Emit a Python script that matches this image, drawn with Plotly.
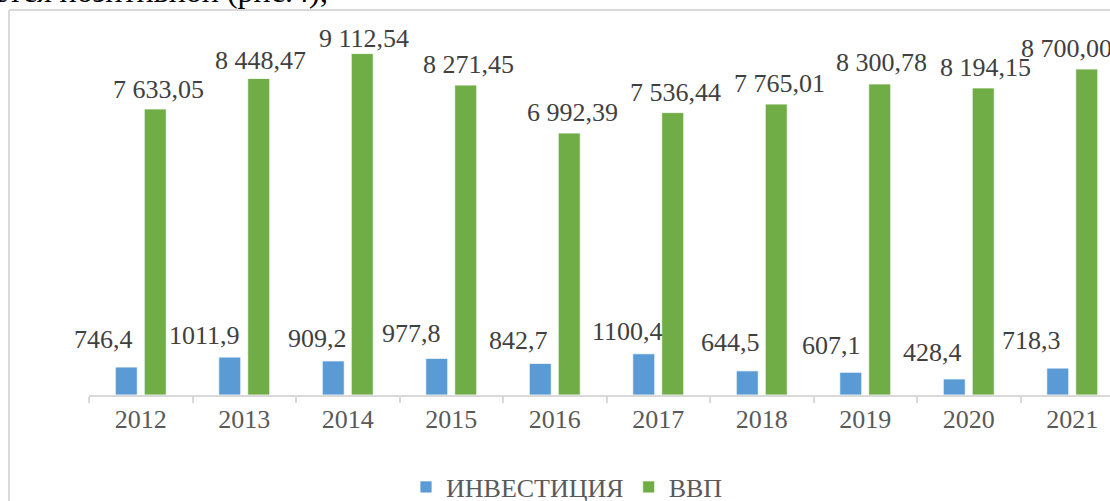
import plotly.graph_objects as go

# data
years = ['2012', '2013', '2014', '2015', '2016', '2017', '2018', '2019', '2020', '2021']
investment = [746.4, 1011.9, 909.2, 977.8, 842.7, 1100.4, 644.5, 607.1, 428.4, 718.3]
gdp = [7633.05, 8448.47, 9112.54, 8271.45, 6992.39, 7536.44, 7765.01, 8300.78, 8194.15, 8700.00]

# small nudges of the data labels (pixels), as placed in the original
inv_dx = [-23, -25, -16, -25, -22, -16, -17, -19, -22, -26]
inv_dy = [28, 22, 22, 25, 23, 22, 28, 27, 26, 28]
gdp_dx = [3, 2, 2, 3, 3, 3, 3, 2, 2, -20]
gdp_dy = [19, 18, 15, 21, 21, 20, 21, 21, 20, 21]

BLUE = '#5b9bd5'
GREEN = '#70ad47'
FONT = 'Liberation Serif, Times New Roman, serif'

W, H = 1110, 501
L, T, B = 89, 10, 106          # plot area in pixels
PLOT_W = W - L
PLOT_H = H - T - B
CAT_W = 103.5                   # category width in px
X_MAX = -0.5 + PLOT_W / CAT_W   # right part of the last category is cut off
PX_PER_UNIT = 0.03747
Y_MAX = PLOT_H / PX_PER_UNIT


def px_x(p):
    return (p - L) / PLOT_W


def px_y(p):
    return (H - B - p) / PLOT_H


def fmt_inv(v):
    return f'{v:.1f}'.replace('.', ',')


def fmt_gdp(v):
    return f'{v:,.2f}'.replace(',', ' ').replace('.', ',')


fig = go.Figure()
fig.add_trace(go.Bar(x=years, y=investment, name='ИНВЕСТИЦИЯ',
                     marker=dict(color=BLUE, line=dict(color='#ffffff', width=0.8))))
fig.add_trace(go.Bar(x=years, y=gdp, name='ВВП',
                     marker=dict(color=GREEN, line=dict(color='#ffffff', width=0.8))))

ann = []
for i in range(len(years)):
    # category axis: position annotations by category index
    ann.append(dict(x=i, y=investment[i], text=fmt_inv(investment[i]), showarrow=False,
                    xshift=-14.5 + inv_dx[i], yshift=inv_dy[i], yanchor='middle',
                    font=dict(family=FONT, size=26, color='#404040')))
    ann.append(dict(x=i, y=gdp[i], text=fmt_gdp(gdp[i]), showarrow=False,
                    xshift=14.5 + gdp_dx[i], yshift=gdp_dy[i], yanchor='middle',
                    font=dict(family=FONT, size=26, color='#404040')))

# line of document text above the chart, cut off by the page top
ann.append(dict(xref='paper', yref='paper', x=px_x(330), y=px_y(11),
                xanchor='right', yanchor='bottom', showarrow=False,
                text='является позитивной (рис.4);',
                font=dict(family=FONT, size=32, color='#000000')))

# chart frame (left and top edges visible)
frame = dict(color='#d9d9d9', width=2)
shapes = [
    dict(type='line', xref='paper', yref='paper', x0=px_x(9), x1=px_x(9),
         y0=px_y(10), y1=px_y(H + 10), line=frame),
    dict(type='line', xref='paper', yref='paper', x0=px_x(9), x1=px_x(W + 10),
         y0=px_y(10), y1=px_y(10), line=frame),
]

fig.update_layout(
    width=W, height=H,
    margin=dict(l=L, r=0, t=T, b=B, autoexpand=False),
    paper_bgcolor='white', plot_bgcolor='white',
    barmode='group', bargap=0.44, bargroupgap=0.24,
    showlegend=True,
    legend=dict(orientation='h', x=px_x(567), y=px_y(487), xanchor='center', yanchor='middle',
                font=dict(family=FONT, size=26, color='#595959'), itemwidth=30),
    annotations=ann,
    shapes=shapes,
)
fig.update_xaxes(type='category', range=[-0.5, X_MAX], showline=True, linecolor='#d9d9d9',
                 linewidth=2, ticks='outside', tickson='boundaries', ticklen=6,
                 tickcolor='#d9d9d9', tickwidth=2, showgrid=False,
                 tickfont=dict(family=FONT, size=26, color='#595959'))
fig.update_yaxes(range=[0, Y_MAX], visible=False, showgrid=False)

fig.write_html("out.html", config={'displayModeBar': False},
               post_script="document.body.style.margin='0';")
